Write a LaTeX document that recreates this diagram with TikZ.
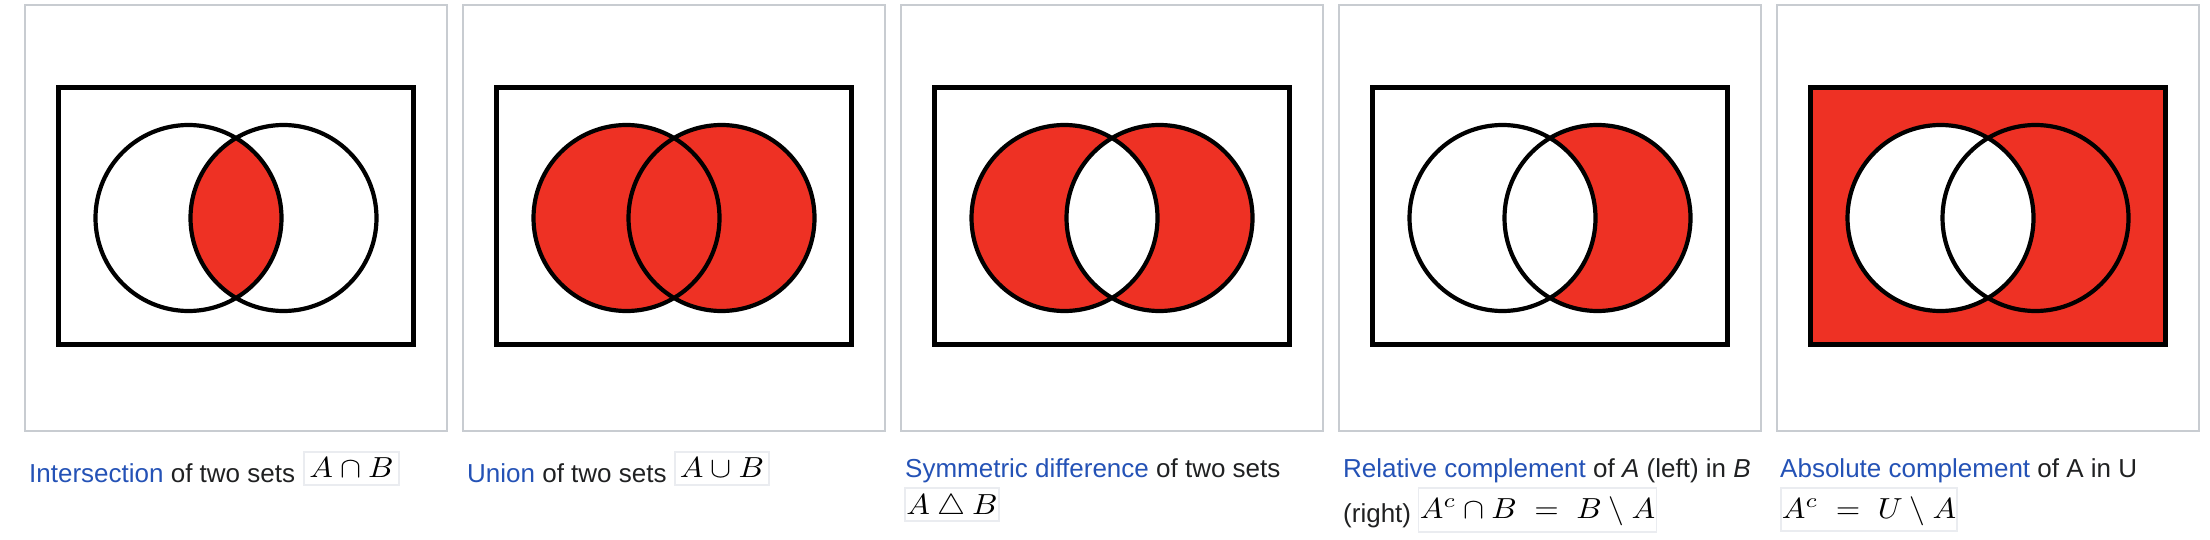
\documentclass[tikz,border=0pt]{standalone}
\usepackage[no-math]{fontspec}
\setmainfont{Liberation Sans}
\usepackage{xcolor}
\usepackage{graphicx}
\definecolor{vennred}{HTML}{EE3124}
\definecolor{framegray}{HTML}{C8CCD1}
\definecolor{boxgray}{HTML}{EAECF0}
\definecolor{linkblue}{HTML}{2452B6}
\definecolor{textgray}{HTML}{202122}
\newcommand{\lnk}[1]{\textcolor{linkblue}{#1}}
\newcommand{\mth}[1]{\scalebox{3.15}[2.9]{$#1$}}
\tikzset{
  panel/.style={draw=framegray, line width=1.5pt},
  univ/.style={draw=black, line width=5pt},
  setline/.style={draw=black, line width=4.2pt},
  captext/.style={font=\fontsize{26}{30}\selectfont, text=textgray, inner sep=0pt, anchor=base west},
  mbox/.style={draw=boxgray, line width=1.5pt, fill=white, font=\fontsize{10}{12}\selectfont,
               inner sep=0pt, anchor=base}
}

\begin{document}
\begin{tikzpicture}[x=1pt, y=-1pt]
  \useasboundingbox (0,0) rectangle (2210,540);
  % image frames
  \foreach \i in {0,...,4} {
    \pgfmathsetmacro\X{25+438*\i}
    \draw[panel] (\X,5) rectangle ++(422,426);
  }
  % intersection
  \begin{scope}
    \clip (188.5,218) circle[radius=93];
    \fill[vennred] (283.5,218) circle[radius=93];
  \end{scope}
  % union
  \fill[vennred] (626.5,218) circle[radius=93] (721.5,218) circle[radius=93];
  % symmetric difference
  \fill[vennred, even odd rule] (1064.5,218) circle[radius=93] (1159.5,218) circle[radius=93];
  % relative complement
  \fill[vennred] (1597.5,218) circle[radius=93];
  \fill[white] (1502.5,218) circle[radius=93];
  % absolute complement
  \fill[vennred] (1810.5,88) rectangle (2165.5,344.5);
  \fill[white] (1940.5,218) circle[radius=93];
  % outlines
  \foreach \i in {0,...,4} {
    \pgfmathsetmacro\X{25+438*\i}
    \draw[setline] (\X+163.5,218) circle[radius=93] (\X+258.5,218) circle[radius=93];
    \draw[univ] (\X+33.5,88) rectangle (\X+388.5,344.5);
  }
  % captions
  \node[captext] (c1) at (29,482) {\lnk{Intersection} of two sets};
  \node[mbox, minimum width=95, text height=25.5pt, text depth=7.5pt] (m1) at (351.5,477.5) {\mth{A\cap B}};
  \node[captext] (c2) at (467,482) {\lnk{Union} of two sets};
  \node[mbox, minimum width=94, text height=25.5pt, text depth=7.5pt] (m2) at (722,477.5) {\mth{A\cup B}};
  \node[captext] (c3) at (905,477) {\lnk{Symmetric difference} of two sets};
  \node[mbox, minimum width=94, text height=26pt, text depth=7pt] (m3) at (952,514) {\mth{A\mathbin{\triangle}B}};
  \node[captext] (c4) at (1343,477) {\lnk{Relative complement} of \textit{A} (left) in \textit{B}};
  \node[captext] (c4b) at (1343,522) {(right)};
  \node[mbox, minimum width=238, text height=30pt, text depth=14pt] (m4) at (1537.5,518) {\mth{A^c\cap B\;=\;B\setminus A}};
  \node[captext] (c5) at (1780,477) {\lnk{Absolute complement} of A in U};
  \node[mbox, minimum width=176, text height=30pt, text depth=13pt] (m5) at (1869,518) {\mth{A^c\;=\;U\setminus A}};
\end{tikzpicture}
\end{document}
